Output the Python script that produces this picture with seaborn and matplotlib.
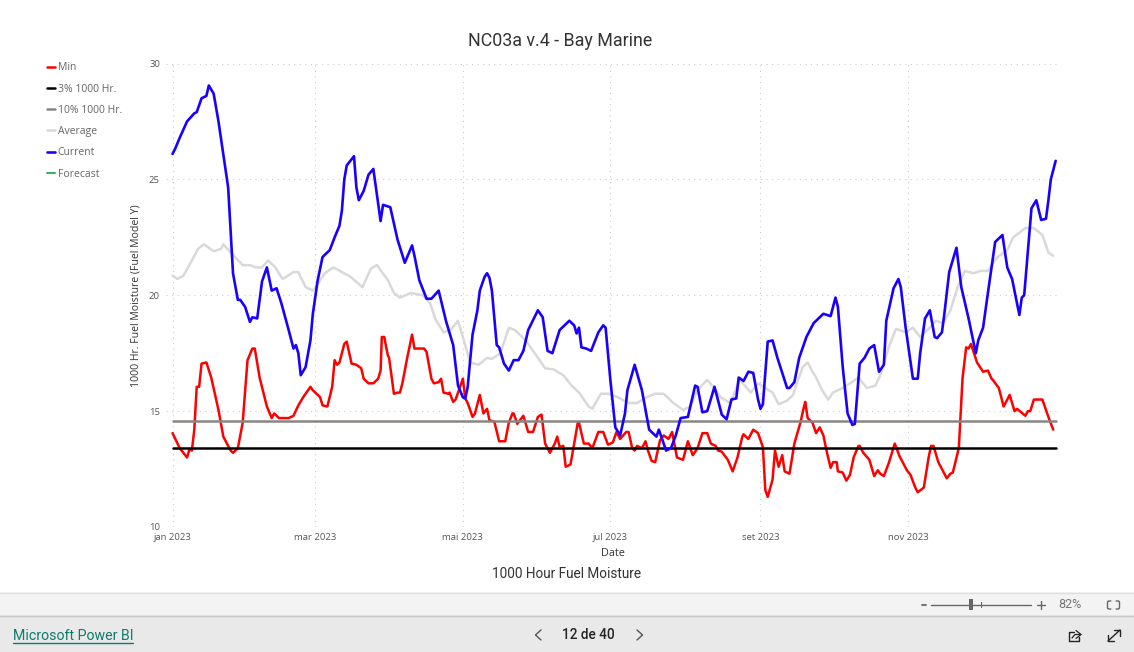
import matplotlib
matplotlib.use('Agg')
import matplotlib.pyplot as plt
from matplotlib.patches import FancyBboxPatch, Rectangle
import pandas as pd
import seaborn as sns

# 読み取った値: (1月1日からの日数, 燃料水分)
min_points = [(0,14.05),(3,13.4),(6,13.0),(7,13.35),(8,13.3),(9,14.2),(10,16.05),(11,16.05),(12,17.05),(14,17.1),(16,16.45),(19,15.05),(21,13.9),(24,13.3),(25,13.2),(27,13.4),(29,14.5),(31,17.2),(33,17.7),(34,17.7),(36,16.45),(39,15.2),(41,14.7),(42,14.9),(44,14.7),(48,14.7),(50,14.8),(52,15.25),(54,15.6),(57,16.05),(58,15.9),(61,15.6),(62,15.25),(64,15.2),(66,16.05),(67,17.2),(68,17.0),(69,17.1),(71,17.9),(72,18),(74,17.05),(76,17),(78,16.85),(79,16.4),(81,16.2),(83,16.2),(85,16.4),(86,16.75),(86.5,18.2),(87.5,18.2),(89,17.4),(89.5,17.3),(91.5,15.75),(93,15.8),(94,15.8),(95,16.2),(97,17.3),(99,18.3),(100,17.7),(104,17.7),(105,17.55),(107,16.4),(108,16.2),(110,16.25),(111,16.4),(112,15.8),(114,15.75),(114.5,15.8),(116,15.4),(117,15.5),(120,16.4),(121,15.55),(122,15.35),(124,14.75),(125,14.9),(127,15.7),(128.5,14.9),(130,15.1),(131,14.6),(133,14.55),(135,13.7),(137.5,13.7),(139,14.5),(140.5,14.9),(141,14.9),(142.5,14.45),(145,14.8),(147,14.1),(149,14.1),(151,14.75),(152.5,14.85),(154,13.6),(156,13.2),(158,13.6),(159,13.9),(160,13.45),(161.5,13.5),(162.5,12.6),(164.5,12.7),(166,13.6),(167.5,14.5),(168,14.5),(170,13.6),(172,13.6),(173.5,13.4),(176,14.1),(178,14.1),(180,13.55),(182,13.65),(183.5,14.1),(185,13.8),(187.5,14.1),(188.5,14.1),(190,13.4),(191,13.3),(192,13.5),(194,13.4),(195.5,13.7),(196.5,13.3),(198,12.85),(199.5,12.8),(201.5,13.75),(203,13.95),(205,13.8),(206.5,14.1),(208.5,13.0),(211,12.9),(213,13.7),(215,13.1),(217,13.4),(219,14.05),(221,14.05),(222.5,13.6),(224.5,13.5),(225.5,13.3),(227,13.25),(229.5,12.9),(231.5,12.4),(233.5,13.0),(235.5,13.9),(236,14),(238,13.8),(240,14.2),(242,14.05),(244,13.45),(245,11.6),(246,11.3),(248,12.05),(249,13.3),(250.5,12.6),(252,13.1),(253,12.4),(255,12.3),(257,13.6),(259.5,14.5),(261,15.2),(261.5,15.4),(262.5,14.7),(264.5,14.5),(266,14.05),(267.5,14.3),(269,13.95),(270.5,13.2),(272,12.55),(273,12.8),(274.5,12.8),(275,12.4),(277,12.35),(278.5,12),(280,12.25),(281.5,13),(283.5,13.5),(284,13.5),(285.5,13.2),(288,12.9),(290,12.2),(291.5,12.45),(292.5,12.3),(294,12.2),(296,12.75),(298.5,13.6),(300.5,13.05),(303.5,12.45),(305,12.25),(307,11.7),(308,11.5),(310.5,11.7),(312.5,13),(313.5,13.5),(314.5,13.5),(316.5,12.8),(320,12.1),(321.5,12.3),(322.5,12.35),(324.5,13.2),(325,13.45),(326.5,16.4),(328,17.75),(329,17.7),(330,17.9),(332.5,17.1),(335,16.7),(337,16.75),(338.5,16.4),(339,16.35),(341.5,16),(343.5,15.2),(345,15.5),(346,15.7),(348,15),(349,15.1),(352.5,14.8),(353.5,15),(354.5,15),(356,15.5),(359.5,15.5),(362,14.75),(364,14.2)]

p3_points = [(0,13.43),(365,13.43)]
p10_points = [(0,14.57),(365,14.57)]

avg_points = [(0,20.85),(2,20.7),(4.5,20.85),(7.5,21.4),(10.5,22),(13,22.2),(15,22.05),(17,21.9),(20,22),(21,22.2),(24,21.85),(29,21.3),(32,21.3),(34.5,21.2),(37,21.2),(39.5,21.5),(42.5,21.2),(45.5,20.7),(50,21),(52,21),(55,20.35),(58,20.2),(63,20.95),(66.5,21.2),(70,21),(73.5,20.8),(78.5,20.35),(82,21.15),(84.5,21.3),(89,20.65),(91.5,20.1),(94,19.9),(98.5,20.1),(103.5,20),(106.5,19.65),(108.5,19),(112,18.4),(115,18.5),(118,18.9),(120,18.2),(123,17.1),(126.5,17),(130,17.3),(132,17.25),(135.5,17.5),(139,18.6),(141.5,18.5),(146,18.05),(149,17.6),(154,16.85),(157.5,16.8),(161.5,16.55),(165,16.1),(168,15.8),(172,15.2),(173.5,15.1),(177,15.75),(180,15.75),(184,15.6),(188.5,15.35),(192,15.35),(196,15.6),(199.5,15.75),(203,15.75),(207,15.35),(211,15.05),(214,15.2),(217,15.9),(221,16.35),(223.5,16.05),(226.5,15.6),(230.5,15.35),(234.5,16.35),(239,15.8),(242,16.2),(248,15.8),(250.5,15.3),(254,15.45),(256.5,15.7),(258,16.2),(260.5,16.9),(262.5,17.1),(264.5,16.7),(266,16.45),(268.5,15.9),(271,15.5),(273,15.8),(277,16),(280,16.2),(283.5,16.45),(287,16),(290.5,16.1),(292.5,16.55),(296,17.75),(299,18.55),(303,18.4),(306,18.6),(309,18.2),(312.5,18.55),(315.5,18.9),(318.5,18.8),(321.5,19.35),(324.5,20.35),(327.5,21.05),(331,20.95),(334,21.05),(337,21.05),(341,21.65),(345,21.95),(347.5,22.5),(352.5,22.9),(356,22.9),(359.5,22.6),(362,21.85),(364,21.7)]

cur_points = [(0,26.1),(1,26.3),(3,26.8),(6,27.5),(9,27.85),(10,27.9),(12,28.5),(14,28.6),(15,29.05),(17,28.7),(19,27.5),(23,24.65),(25,20.95),(27,19.8),(28,19.8),(30,19.5),(32,18.85),(33,19.05),(35,19.0),(37,20.6),(39,21.2),(41,20.2),(43,20.3),(45,19.65),(48,18.5),(50,17.7),(51,17.85),(52,17.5),(53,16.55),(55,16.9),(57,18.05),(58,19.2),(60,20.65),(62,21.65),(65,21.95),(67,22.5),(69,23),(70,23.65),(71,25),(72,25.6),(75,26),(76,24.65),(77,24.1),(79,24.5),(81,25.2),(83,25.45),(86,23.2),(87,23.9),(90,23.8),(93,22.4),(96,21.4),(99,22.15),(100,21.7),(102,20.65),(105,19.85),(107,19.85),(110,20.2),(113,18.9),(116,17.85),(118,16.1),(120,15.6),(121,15.55),(122,16.05),(124,18.3),(126,19.35),(127,20.2),(129,20.8),(130,20.95),(131,20.75),(132,20.2),(134,17.85),(135,17.75),(137,17.05),(139,16.75),(141,17.2),(143,17.2),(145,17.6),(147,18.5),(151,19.35),(153,19.05),(155,17.6),(157,17.5),(160,18.5),(164,18.9),(166,18.7),(167,18.35),(168,18.6),(169,17.75),(171,17.7),(173,17.6),(176,18.4),(178,18.7),(179,18.6),(181,16.3),(183,14.3),(185,13.95),(187,14.9),(188,15.9),(191,17),(194,15.9),(197,14.2),(200,13.9),(201,14.2),(204,13.3),(206,13.4),(208,13.95),(210,14.7),(213,14.75),(216,16.1),(217,16.05),(219,14.95),(221,15),(224,16.05),(227,14.85),(229,14.65),(231,15.5),(233,15.55),(234,16.45),(236,16.3),(238,16.7),(240,16.65),(242,15.5),(243,15.1),(244,15.3),(246,18),(248,18.05),(250,17.3),(254,16),(255,16),(257,16.25),(259,17.3),(262,18.2),(265,18.8),(269,19.2),(272,19.1),(274,19.9),(275,19.5),(277,16.9),(279,14.9),(281,14.4),(282,14.45),(284,17.05),(286,17.3),(288,17.7),(290,17.85),(292,16.7),(294,17),(295,18.9),(298,20.3),(300,20.7),(301,20.35),(303,18.6),(306,16.4),(308,16.4),(309,17.5),(311,19),(313,19.35),(315,18.2),(316,18.15),(318,18.4),(319,19.2),(321,21),(324,22.05),(326,20.35),(329,19),(332,17.5),(333,18.05),(335,18.6),(337,20.1),(340,22.3),(343,22.6),(345,21.2),(347,20.7),(350,19.15),(351,19.9),(352,20),(355,23.75),(357,24.1),(359,23.25),(361,23.3),(362,24.1),(363,25),(365,25.8)]

tick_days = [0, 59, 120, 181, 243, 304]
tick_labels = ['jan 2023', 'mar 2023', 'mai 2023', 'jul 2023', 'set 2023', 'nov 2023']
y_ticks = [10, 15, 20, 25, 30]

W, H = 1134, 652
sns.set_theme(style='white')
plt.rcParams['font.family'] = ['Open Sans', 'DejaVu Sans']

fig = plt.figure(figsize=(W / 100, H / 100), dpi=100)
ax = fig.add_axes([165.5 / W, 1 - 527 / H, 895 / W, (527 - 63.5) / H])

series = [
    ('Min', min_points, '#ff0000', 1.8),
    ('3% 1000 Hr.', p3_points, '#000000', 1.8),
    ('10% 1000 Hr.', p10_points, '#8a8583', 1.8),
    ('Average', avg_points, '#d9d9d9', 1.8),
    ('Current', cur_points, '#1a00ff', 1.9),
]
start = pd.Timestamp('2023-01-01')
for name, points, color, lw in series:
    df = pd.DataFrame(points, columns=['day', 'value'])
    df['Date'] = start + pd.to_timedelta(df['day'], unit='D')
    sns.lineplot(data=df, x='Date', y='value', color=color, linewidth=lw, label=name, ax=ax, errorbar=None)
ax.plot([], [], color='#2fb35a', linewidth=1.4, label='Forecast')

ax.set_xlim(start - pd.Timedelta(days=2.9), start + pd.Timedelta(days=367))
ax.set_ylim(10, 30)
ax.set_xticks([start + pd.Timedelta(days=d) for d in tick_days])
ax.set_xticklabels(tick_labels, fontsize=6.8, color='#555555')
ax.set_yticks(y_ticks)
ax.set_yticklabels([str(y) for y in y_ticks], fontsize=6.8, color='#555555')
ax.tick_params(length=0, pad=4)
ax.grid(True, linestyle=(0, (1, 4)), linewidth=0.8, color='#cccccc')
ax.set_axisbelow(True)
for s in ax.spines.values():
    s.set_visible(False)
ax.set_xlabel('Date', fontsize=7.8, color='#333333', labelpad=5)
ax.set_ylabel('1000 Hr. Fuel Moisture (Fuel Model Y)', fontsize=7.6, color='#333333', labelpad=5)

leg = ax.legend(loc='upper left', bbox_to_anchor=(47 / W, 1 - 62.5 / H), bbox_transform=fig.transFigure,
                frameon=False, fontsize=7.5, labelspacing=0.98, handlelength=0.8, handletextpad=0.22,
                borderpad=0, borderaxespad=0)
for t in leg.get_texts():
    t.set_color('#666666')

# 下部のツールバー
ui = fig.add_axes([0, 0, 1, 1], zorder=-1)
ui.set_xlim(0, W)
ui.set_ylim(H, 0)
ui.axis('off')
ui.add_patch(Rectangle((0, 592), W, 23, fc='#f3f3f3', ec='none'))
ui.add_patch(Rectangle((0, 615), W, 37, fc='#e9e9e9', ec='none'))
ui.axhline(592.5, color='#e0e0e0', lw=1)
ui.axhline(615.5, color='#c8c8c8', lw=1)

ui.text(567, 574.5, '1000 Hour Fuel Moisture', ha='center', va='center', fontsize=9.8, color='#333333', family='Roboto')
ui.text(560, 40.5, 'NC03a v.4 - Bay Marine', ha='center', va='center', fontsize=12.9, color='#333333', family='Roboto')
ui.text(13, 636, 'Microsoft Power BI', ha='left', va='center', fontsize=10.2, color='#0f7b6c', family='Roboto')
ui.plot([13, 133], [642.5, 642.5], color='#0f7b6c', lw=1)
ui.text(588, 635, '12 de 40', ha='center', va='center', fontsize=9.8, color='#252423', family='Roboto', weight='medium')
ui.plot([541, 535.5, 541], [630, 635, 640], color='#555555', lw=1)
ui.plot([637, 642.5, 637], [630, 635, 640], color='#555555', lw=1)

ui.plot([922, 926], [605, 605], color='#666666', lw=1.3)
ui.plot([931, 1031], [604.5, 604.5], color='#666666', lw=1)
ui.add_patch(Rectangle((969, 599), 4, 11, fc='#666666', ec='none'))
ui.plot([981, 981], [602, 607], color='#666666', lw=0.8)
ui.plot([1037, 1045], [604.5, 604.5], color='#666666', lw=1)
ui.plot([1041, 1041], [600.5, 608.5], color='#666666', lw=1)
ui.text(1070, 604.5, '82%', ha='center', va='center', fontsize=9, color='#777777', family='Roboto')
ui.add_patch(FancyBboxPatch((1107.5, 601), 12, 8, boxstyle='round,pad=0,rounding_size=1.5', fc='none', ec='#666666', lw=1))
ui.plot([1112, 1115], [601, 601], color='#f3f3f3', lw=1.4)
ui.plot([1112, 1115], [609, 609], color='#f3f3f3', lw=1.4)

# 共有アイコンと全画面アイコン
ui.plot([1074, 1069, 1069, 1079, 1079], [632, 632, 641, 641, 637], color='#252423', lw=1)
ui.plot([1072, 1075, 1081, 1076], [638, 634.5, 634.5, 630.5], color='#252423', lw=0.9)
ui.plot([1076, 1081], [638.5, 634.5], color='#252423', lw=0.9)
ui.plot([1108, 1120], [641, 630], color='#252423', lw=1)
ui.plot([1114, 1120, 1120], [630, 630, 636], color='#252423', lw=1)
ui.plot([1108, 1108, 1114], [635, 641, 641], color='#252423', lw=1)

fig.savefig('out.png', dpi=100)
